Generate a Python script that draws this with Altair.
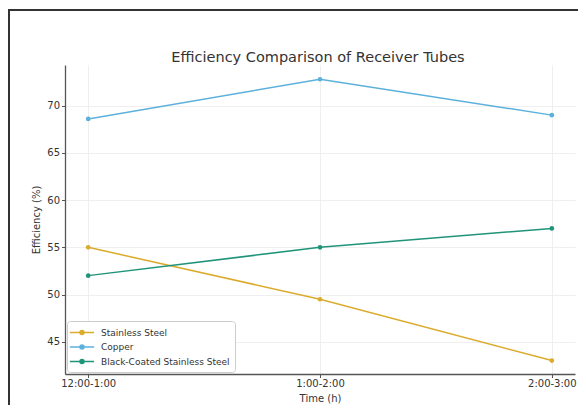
import altair as alt
import pandas as pd

times = ["12:00-1:00", "1:00-2:00", "2:00-3:00"]
series = ["Stainless Steel", "Copper", "Black-Coated Stainless Steel"]
stainless = [55.0, 49.5, 43.0]
copper = [68.6, 72.8, 69.0]
black_coated = [52.0, 55.0, 57.0]
colors = ["#dbab2c", "#5cb1dc", "#1f9479"]
y_ticks = [45, 50, 55, 60, 65, 70]
title_text = "Efficiency Comparison of Receiver Tubes"

rows = []
for name, vals in zip(series, [stainless, copper, black_coated]):
    for t, v in zip(times, vals):
        rows.append({"Time": t, "Material": name, "Efficiency": v})
df = pd.DataFrame(rows)

FONT = "DejaVu Sans"
W, H = 510, 309
PAD = {"left": 57, "top": 57, "right": 3, "bottom": 31}

color = alt.Color(
    "Material:N",
    sort=series,
    scale=alt.Scale(domain=series, range=colors),
    legend=alt.Legend(
        title=None,
        orient="bottom-left",
        offset=2,
        padding=5,
        strokeColor="#cccccc",
        fillColor="#ffffff",
        cornerRadius=3,
        labelFont=FONT,
        labelFontSize=9,
        labelColor="#333333",
        labelOffset=12.5,
        rowPadding=2.5,
        symbolOffset=3.5,
        symbolType="M-2.2,0L2.2,0M0.36,0A0.36,0.36,0,1,1,-0.36,0A0.36,0.36,0,1,1,0.36,0",
        symbolSize=121,
        symbolStrokeWidth=1.5,
    ),
)

x = alt.X(
    "Time:N",
    sort=times,
    scale=alt.Scale(type="point", padding=0.1),
    axis=alt.Axis(
        title="Time (h)",
        labelAngle=0,
        labelFont=FONT,
        labelFontSize=10,
        labelColor="#333333",
        labelPadding=1,
        titleFont=FONT,
        titleFontSize=10,
        titleFontWeight="normal",
        titleColor="#333333",
        titlePadding=5,
        tickSize=3.5,
        tickColor="#555555",
        domainColor="#555555",
        domainWidth=1.3,
        grid=True,
        gridColor="#ebebeb",
        gridWidth=0.8,
    ),
)

y = alt.Y(
    "Efficiency:Q",
    scale=alt.Scale(domain=[41.58, 74.31], nice=False, zero=False),
    axis=alt.Axis(
        title="Efficiency (%)",
        values=y_ticks,
        labelFont=FONT,
        labelFontSize=10,
        labelColor="#333333",
        labelPadding=2,
        titleFont=FONT,
        titleFontSize=10,
        titleFontWeight="normal",
        titleColor="#333333",
        titlePadding=5,
        tickSize=3.5,
        tickColor="#555555",
        domainColor="#555555",
        domainWidth=1.3,
        grid=True,
        gridColor="#ebebeb",
        gridWidth=0.8,
    ),
)

base = alt.Chart(df)
lines = base.mark_line(strokeWidth=1.5).encode(x=x, y=y, color=color, detail="Material:N")
points = base.mark_circle(size=22, opacity=1).encode(x=x, y=y, color=color)

# decorative frame: only the top and left edges, kept inside the drawing area
frame_df = pd.DataFrame({"k": [0]})
top_rule = alt.Chart(frame_df).mark_rule(color="#333333", strokeWidth=2).encode(
    x=alt.value(-56), x2=alt.value(W + PAD["right"]), y=alt.value(-55)
)
left_rule = alt.Chart(frame_df).mark_rule(color="#333333", strokeWidth=2).encode(
    x=alt.value(-56), y=alt.value(-56), y2=alt.value(H + PAD["bottom"])
)
title = alt.Chart(pd.DataFrame({"t": [title_text]})).mark_text(
    font=FONT, fontSize=14.5, color="#333333", align="center", baseline="alphabetic"
).encode(text="t:N", x=alt.value(W / 2 - 2), y=alt.value(-3.5))

chart = (
    alt.layer(top_rule, left_rule, lines, points, title)
    .properties(
        width=W,
        height=H,
        autosize=alt.AutoSizeParams(type="none"),
        padding=PAD,
        background="#ffffff",
    )
    .configure_view(strokeWidth=0)
)

chart.save("out.html", embed_options={"renderer": "svg", "actions": False})
